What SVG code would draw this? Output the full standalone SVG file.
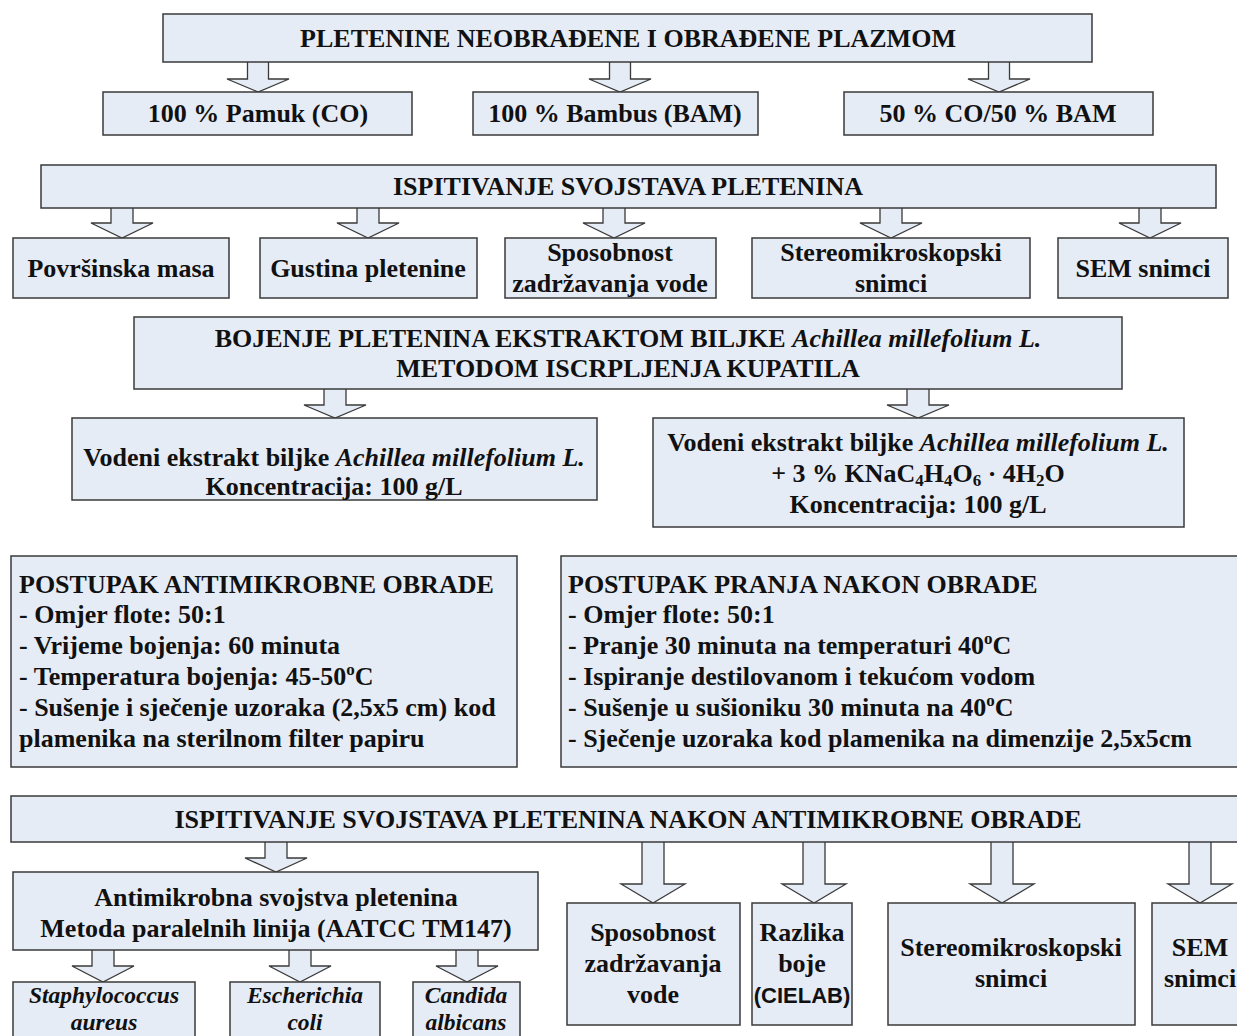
<svg xmlns="http://www.w3.org/2000/svg" width="1237" height="1036" viewBox="0 0 1237 1036">
<style>
.b{fill:#E6ECF6;stroke:#3a3a3a;stroke-width:1.5}
.a{fill:#E6ECF6;stroke:#3a3a3a;stroke-width:1.3;stroke-linejoin:miter}
text{font-family:"Liberation Serif","Times New Roman",serif;font-weight:bold;font-size:26px;fill:#111}
.c{text-anchor:middle}
.i{font-style:italic}
.m{font-size:23.5px}
.s{font-family:"Liberation Sans",Arial,sans-serif;font-size:22px}
.sub{font-size:17px}
</style>
<rect width="1237" height="1036" fill="#fff"/>
<g id="connectors">
<path class="a" d="M247.5,62V79H227L258,92L289,79H268.5V62"/>
<path class="a" d="M609.5,62V79H589L620,92L651,79H630.5V62"/>
<path class="a" d="M988.5,62V79H968L999,92L1030,79H1009.5V62"/>
<path class="a" d="M111,208V223H91L122,238L153,223H133V208"/>
<path class="a" d="M357,208V223H337L368,238L399,223H379V208"/>
<path class="a" d="M603,208V223H583L614,238L645,223H625V208"/>
<path class="a" d="M880,208V223H860L891,238L922,223H902V208"/>
<path class="a" d="M1139,208V223H1119L1150,238L1181,223H1161V208"/>
<path class="a" d="M324,389V405H304L335,418L366,405H346V389"/>
<path class="a" d="M907,389V405H887L918,418L949,405H929V389"/>
<path class="a" d="M265,842V858H245L276,872L307,858H287V842"/>
<path class="a" d="M642,842V884H621L653,903L685,884H664V842"/>
<path class="a" d="M803,842V884H782L814,903L846,884H825V842"/>
<path class="a" d="M991,842V884H970L1002,903L1034,884H1013V842"/>
<path class="a" d="M1189,842V884H1168L1200,903L1232,884H1211V842"/>
<path class="a" d="M92,950V966H72L103,982L134,966H114V950"/>
<path class="a" d="M289,950V966H269L300,982L331,966H311V950"/>
<path class="a" d="M456,950V966H436L467,982L498,966H478V950"/>
</g>
<g id="n-top"><rect class="b" x="163" y="14" width="929" height="48"/><text class="c" x="628" y="47">PLETENINE NEOBRAĐENE I OBRAĐENE PLAZMOM</text></g>
<g id="n-co"><rect class="b" x="103" y="92" width="309" height="43"/><text class="c" x="258" y="122">100 % Pamuk (CO)</text></g>
<g id="n-bam"><rect class="b" x="473" y="92" width="285" height="43"/><text class="c" x="615" y="122">100 % Bambus (BAM)</text></g>
<g id="n-mix"><rect class="b" x="844" y="92" width="309" height="43"/><text class="c" x="998" y="122">50 % CO/50 % BAM</text></g>
<g id="n-isp"><rect class="b" x="41" y="165" width="1175" height="43"/><text class="c" x="628" y="195">ISPITIVANJE SVOJSTAVA PLETENINA</text></g>
<g id="n-pov"><rect class="b" x="13" y="238" width="216" height="60"/><text class="c" x="121" y="277">Površinska masa</text></g>
<g id="n-gus"><rect class="b" x="260" y="238" width="217" height="60"/><text class="c" x="368" y="277">Gustina pletenine</text></g>
<g id="n-spo"><rect class="b" x="505" y="238" width="211" height="60"/><text class="c" x="610" y="261">Sposobnost</text><text class="c" x="610" y="292">zadržavanja vode</text></g>
<g id="n-ste"><rect class="b" x="752" y="238" width="278" height="60"/><text class="c" x="891" y="261">Stereomikroskopski</text><text class="c" x="891" y="292">snimci</text></g>
<g id="n-sem"><rect class="b" x="1058" y="238" width="170" height="60"/><text class="c" x="1143" y="277">SEM snimci</text></g>
<g id="n-boj"><rect class="b" x="134" y="317" width="988" height="72"/><text class="c" x="628" y="347">BOJENJE PLETENINA EKSTRAKTOM BILJKE <tspan class="i">Achillea millefolium L.</tspan></text><text class="c" x="628" y="377">METODOM ISCRPLJENJA KUPATILA</text></g>
<g id="n-vod1"><rect class="b" x="72" y="418" width="525" height="82"/><text class="c" x="334" y="466">Vodeni ekstrakt biljke <tspan class="i">Achillea millefolium L.</tspan></text><text class="c" x="334" y="495">Koncentracija: 100 g/L</text></g>
<g id="n-vod2"><rect class="b" x="653" y="418" width="531" height="109"/><text class="c" x="918" y="451">Vodeni ekstrakt biljke <tspan class="i">Achillea millefolium L.</tspan></text><text class="c" x="918" y="482">+ 3 % KNaC<tspan class="sub" dy="4">4</tspan><tspan dy="-4">H</tspan><tspan class="sub" dy="4">4</tspan><tspan dy="-4">O</tspan><tspan class="sub" dy="4">6</tspan><tspan dy="-4"> · 4H</tspan><tspan class="sub" dy="4">2</tspan><tspan dy="-4">O</tspan></text><text class="c" x="918" y="513">Koncentracija: 100 g/L</text></g>
<g id="n-anti"><rect class="b" x="11" y="556" width="506" height="211"/>
<text x="19" y="593">POSTUPAK ANTIMIKROBNE OBRADE</text>
<text x="19" y="623">- Omjer flote: 50:1</text>
<text x="19" y="654">- Vrijeme bojenja: 60 minuta</text>
<text x="19" y="685">- Temperatura bojenja: 45-50<tspan class="sub" dy="-10">o</tspan><tspan dy="10">C</tspan></text>
<text x="19" y="716">- Sušenje i sječenje uzoraka (2,5x5 cm) kod</text>
<text x="19" y="747">plamenika na sterilnom filter papiru</text></g>
<g id="n-pranje"><rect class="b" x="561" y="556" width="690" height="211"/>
<text x="568" y="593">POSTUPAK PRANJA NAKON OBRADE</text>
<text x="568" y="623">- Omjer flote: 50:1</text>
<text x="568" y="654">- Pranje 30 minuta na temperaturi 40<tspan class="sub" dy="-10">o</tspan><tspan dy="10">C</tspan></text>
<text x="568" y="685">- Ispiranje destilovanom i tekućom vodom</text>
<text x="568" y="716">- Sušenje u sušioniku 30 minuta na 40<tspan class="sub" dy="-10">o</tspan><tspan dy="10">C</tspan></text>
<text x="568" y="747">- Sječenje uzoraka kod plamenika na dimenzije 2,5x5cm</text></g>
<g id="n-isp2"><rect class="b" x="11" y="796" width="1240" height="46"/><text class="c" x="628" y="828">ISPITIVANJE SVOJSTAVA PLETENINA NAKON ANTIMIKROBNE OBRADE</text></g>
<g id="n-am"><rect class="b" x="13" y="872" width="525" height="78"/><text class="c" x="276" y="906">Antimikrobna svojstva pletenina</text><text class="c" x="276" y="937">Metoda paralelnih linija (AATCC TM147)</text></g>
<g id="n-sa"><rect class="b" x="13" y="982" width="182" height="70"/><text class="c i m" x="104" y="1003">Staphylococcus</text><text class="c i m" x="104" y="1030">aureus</text></g>
<g id="n-ec"><rect class="b" x="230" y="982" width="150" height="70"/><text class="c i m" x="305" y="1003">Escherichia</text><text class="c i m" x="305" y="1030">coli</text></g>
<g id="n-ca"><rect class="b" x="413" y="982" width="107" height="70"/><text class="c i m" x="466" y="1003">Candida</text><text class="c i m" x="466" y="1030">albicans</text></g>
<g id="n-spo2"><rect class="b" x="567" y="903" width="173" height="122"/><text class="c" x="653" y="941">Sposobnost</text><text class="c" x="653" y="972">zadržavanja</text><text class="c" x="653" y="1003">vode</text></g>
<g id="n-raz"><rect class="b" x="752" y="903" width="100" height="122"/><text class="c" x="802" y="941">Razlika</text><text class="c" x="802" y="972">boje</text><text class="c s" x="802" y="1003">(CIELAB)</text></g>
<g id="n-ste2"><rect class="b" x="888" y="903" width="247" height="122"/><text class="c" x="1011" y="956">Stereomikroskopski</text><text class="c" x="1011" y="987">snimci</text></g>
<g id="n-sem2"><rect class="b" x="1152" y="903" width="100" height="122"/><text class="c" x="1200" y="956">SEM</text><text class="c" x="1200" y="987">snimci</text></g>
</svg>
